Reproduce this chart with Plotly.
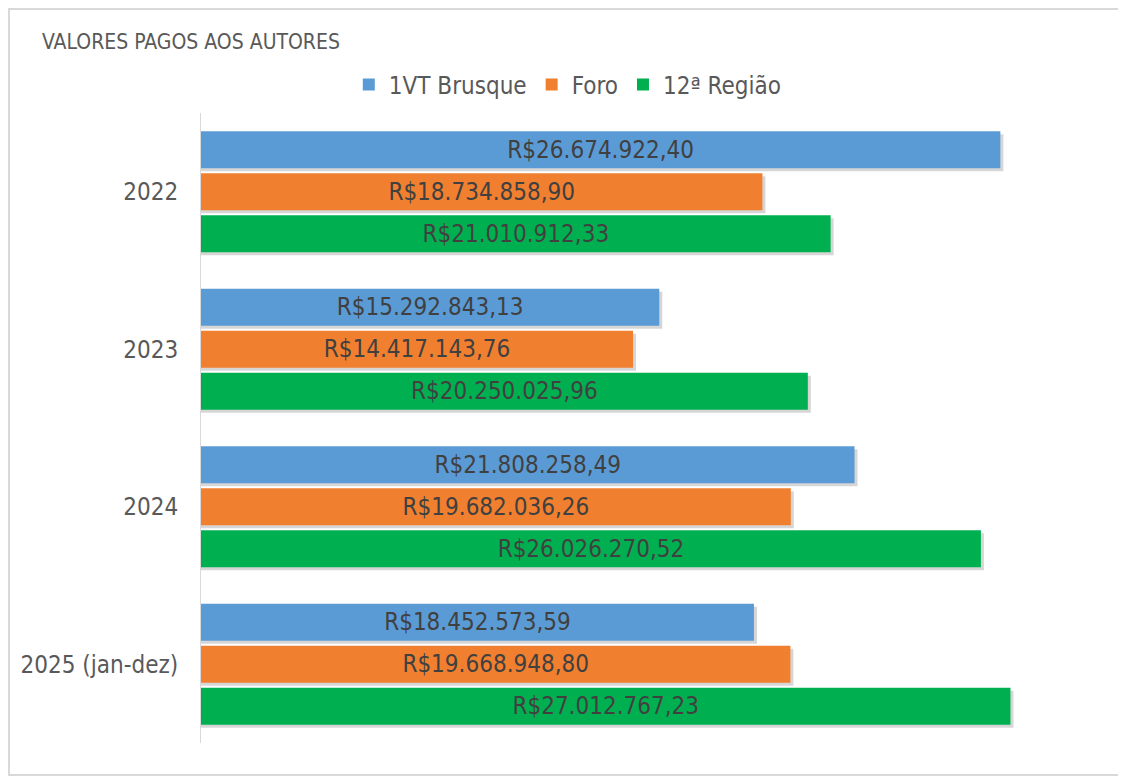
import plotly.graph_objects as go

categorias = ["2022", "2023", "2024", "2025 (jan-dez)"]
brusque = [26674922.40, 15292843.13, 21808258.49, 18452573.59]
foro = [18734858.90, 14417143.76, 19682036.26, 19668948.80]
regiao = [21010912.33, 20250025.96, 26026270.52, 27012767.23]

series = [
    ("1VT Brusque", brusque, "#5B9BD5"),
    ("Foro", foro, "#F07F2F"),
    ("12ª Região", regiao, "#00B050"),
]

FONTE = "DejaVu Sans Condensed, sans-serif"

# a página tem 8px de margem no corpo, por isso a figura é um pouco menor
W, H = 1118, 768
L, R, T, B = 193, 26, 105, 33
pw, ph = W - L - R, H - T - B
XMAX = 30000000

banda = ph / len(categorias)          # px por categoria
fatia = 0.8 / 3                       # espaço de cada barra no grupo
larg = fatia * 0.88                   # largura da barra
sombra_y = 3 / banda
sombra_x = 3 * XMAX / pw


def brl(v):
    s = f"{v:,.2f}"
    s = s.replace(",", "X").replace(".", ",").replace("X", ".")
    return "R$" + s


fig = go.Figure()

# sombras primeiro, por baixo das barras
for i, (nome, valores, cor) in enumerate(series):
    off = -0.4 + i * fatia + (fatia - larg) / 2
    fig.add_trace(go.Bar(
        y=categorias,
        x=[v + sombra_x for v in valores],
        orientation="h",
        width=larg,
        offset=off + sombra_y,
        marker=dict(color="rgba(0,0,0,0.16)", line=dict(width=0)),
        showlegend=False,
        hoverinfo="skip",
    ))

for i, (nome, valores, cor) in enumerate(series):
    off = -0.4 + i * fatia + (fatia - larg) / 2
    fig.add_trace(go.Bar(
        y=categorias,
        x=valores,
        name=nome,
        orientation="h",
        width=larg,
        offset=off,
        marker=dict(color=cor, line=dict(width=0)),
        text=[brl(v) for v in valores],
        textposition="inside",
        insidetextanchor="middle",
        textangle=0,
        textfont=dict(family=FONTE, size=24, color="#404040"),
    ))

fig.update_layout(
    width=W,
    height=H,
    barmode="overlay",
    paper_bgcolor="white",
    plot_bgcolor="white",
    margin=dict(l=L, r=R, t=T, b=B),
    font=dict(family=FONTE, color="#595959"),
    title=dict(
        text="VALORES PAGOS AOS AUTORES",
        x=34 / W, xanchor="left",
        y=1 - 34 / H, yanchor="middle",
        font=dict(family=FONTE, size=21, color="#595959"),
    ),
    legend=dict(
        orientation="h",
        x=0.408, xanchor="center",
        y=1 + (T - 77) / ph, yanchor="middle",
        traceorder="normal",
        font=dict(family=FONTE, size=24, color="#595959"),
        itemwidth=30,
    ),
    showlegend=True,
)

fig.update_yaxes(
    autorange="reversed",
    showgrid=False,
    showline=True,
    linecolor="#D9D9D9",
    linewidth=1,
    ticks="",
    ticklabelstandoff=17,
    tickfont=dict(family=FONTE, size=24, color="#595959"),
)
fig.update_xaxes(
    range=[0, XMAX],
    showgrid=False,
    showticklabels=False,
    zeroline=False,
    showline=False,
)

# moldura do gráfico
fig.add_shape(
    type="rect", xref="paper", yref="paper",
    x0=(1 - L) / pw, x1=1.2, y0=-(B - 1) / ph, y1=1 + (T - 1) / ph,
    line=dict(color="#D9D9D9", width=2), fillcolor="rgba(0,0,0,0)",
    layer="below",
)

fig.write_html("out.html")
